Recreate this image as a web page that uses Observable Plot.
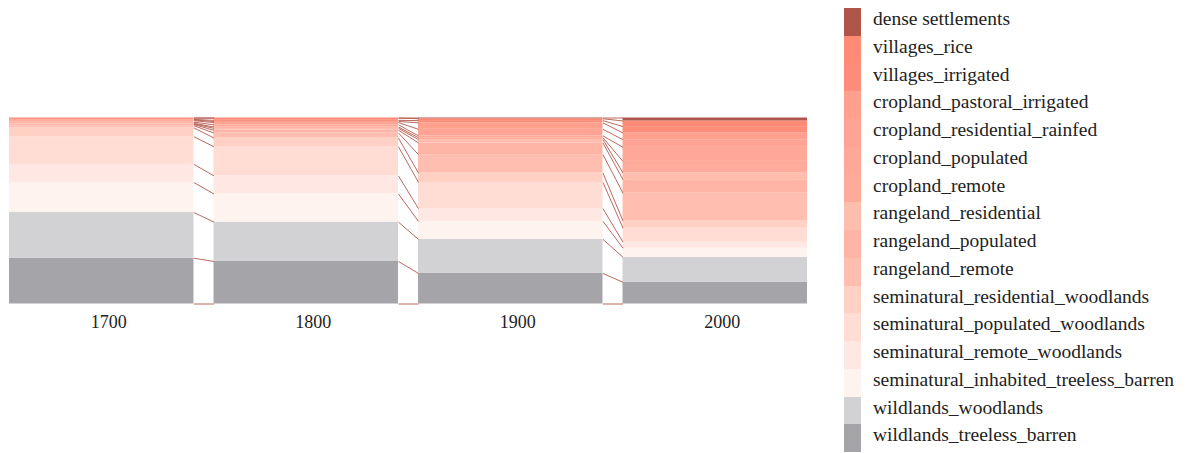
<!DOCTYPE html>
<html>
<head>
<meta charset="utf-8">
<script src="https://cdn.jsdelivr.net/npm/d3@7"></script>
<script src="https://cdn.jsdelivr.net/npm/@observablehq/plot@0.6"></script>
<style>
  html, body { margin: 0; padding: 0; background: #fff; }
  body { width: 1185px; height: 453px; overflow: hidden; font-family: "Liberation Serif", "DejaVu Serif", serif; }
  #wrap { display: flex; flex-direction: row; align-items: flex-start; }
  #legend { margin-top: 8px; margin-left: 14px; }
  .row { display: flex; align-items: center; height: 27.75px; }
  .sw { width: 17px; height: 27.75px; }
  .lb { margin-left: 12px; font-size: 19.5px; color: #222; white-space: nowrap; line-height: 1; position: relative; top: -3px; }
</style>
</head>
<body>
<div id="wrap"><div id="chart"></div><div id="legend"></div></div>
<script>
// Years (x categories)
const years = [1700, 1800, 1900, 2000];

// Classes, legend order (top of stack first)
const classes = [
  "dense settlements",
  "villages_rice",
  "villages_irrigated",
  "cropland_pastoral_irrigated",
  "cropland_residential_rainfed",
  "cropland_populated",
  "cropland_remote",
  "rangeland_residential",
  "rangeland_populated",
  "rangeland_remote",
  "seminatural_residential_woodlands",
  "seminatural_populated_woodlands",
  "seminatural_remote_woodlands",
  "seminatural_inhabited_treeless_barren",
  "wildlands_woodlands",
  "wildlands_treeless_barren"
];

const colors = [
  "#b0554a", "#ff8a76", "#fd8d7a", "#ffa08e", "#ffa494", "#ffa898", "#ffab9b",
  "#ffbdad", "#ffb5a6", "#ffbeb0", "#ffd0c4", "#ffddd4", "#ffe8e3", "#fff3f0",
  "#d2d2d4", "#a5a4a9"
];

// Shares (%) per year, in the same order as classes
const share1700 = [0.05, 0.7, 0.3, 0.4, 0.8, 0.6, 0.3, 0.4, 0.6, 1.2, 4.7, 14.9, 9.8, 16.1, 24.6, 24.6];
const share1800 = [0.05, 1.2, 0.6, 0.6, 1.2, 1.2, 0.7, 1.0, 1.5, 2.7, 4.7, 15.6, 9.7, 15.1, 21.1, 22.8];
const share1900 = [0.4, 1.0, 1.2, 3.5, 3.5, 1.0, 1.0, 1.8, 6.3, 9.9, 5.0, 14.1, 6.8, 9.7, 18.3, 16.4];
const share2000 = [1.6, 3.0, 3.4, 3.6, 4.1, 7.5, 6.2, 3.6, 7.2, 14.9, 3.8, 7.5, 3.2, 4.8, 13.4, 11.6];

const shares = [share1700, share1800, share1900, share2000];

// Half-width of a bar in year units (style)
const hw = 45.1;

// Build normalized stack (bottom = last class)
const rects = [];
const bounds = [];
years.forEach((yr, i) => {
  const vals = shares[i];
  const total = d3.sum(vals);
  let cum = 0;
  const b = [0];
  for (let k = classes.length - 1; k >= 0; k--) {
    const y1 = cum / total;
    cum += vals[k];
    const y2 = cum / total;
    rects.push({year: yr, cls: classes[k], y1, y2});
    b.push(y2);
  }
  bounds.push(b);
});

const links = [];
for (let i = 0; i < years.length - 1; i++) {
  bounds[i].forEach((v, k) => {
    links.push({x1: years[i] + hw, x2: years[i + 1] - hw, y1: v, y2: bounds[i + 1][k]});
  });
}

const chart = Plot.plot({
  width: 830,
  height: 453,
  marginLeft: 9,
  marginRight: 23,
  marginTop: 117.5,
  marginBottom: 149.5,
  style: {fontFamily: '"Liberation Serif", "DejaVu Serif", serif', fontSize: "18px", color: "#222", background: "#fff"},
  x: {domain: [years[0] - hw, years[years.length - 1] + hw], axis: null},
  y: {domain: [0, 1], axis: null},
  color: {domain: classes, range: colors},
  marks: [
    Plot.rect(rects, {x1: d => d.year - hw, x2: d => d.year + hw, y1: "y1", y2: "y2", fill: "cls"}),
    Plot.link(links, {x1: "x1", x2: "x2", y1: "y1", y2: "y2", stroke: "#b5584c", strokeWidth: 1, strokeOpacity: 0.9}),
    Plot.text(years, {x: d => d, text: d => String(d), frameAnchor: "bottom", lineAnchor: "middle", dy: 18.5, dx: 7, fontSize: 18, fill: "#222"})
  ]
});
document.getElementById("chart").appendChild(chart);

const legend = document.getElementById("legend");
classes.forEach((c, i) => {
  const row = document.createElement("div");
  row.className = "row";
  const sw = document.createElement("div");
  sw.className = "sw";
  sw.style.background = colors[i];
  const lb = document.createElement("div");
  lb.className = "lb";
  lb.textContent = c;
  row.appendChild(sw);
  row.appendChild(lb);
  legend.appendChild(row);
});
</script>
</body>
</html>
